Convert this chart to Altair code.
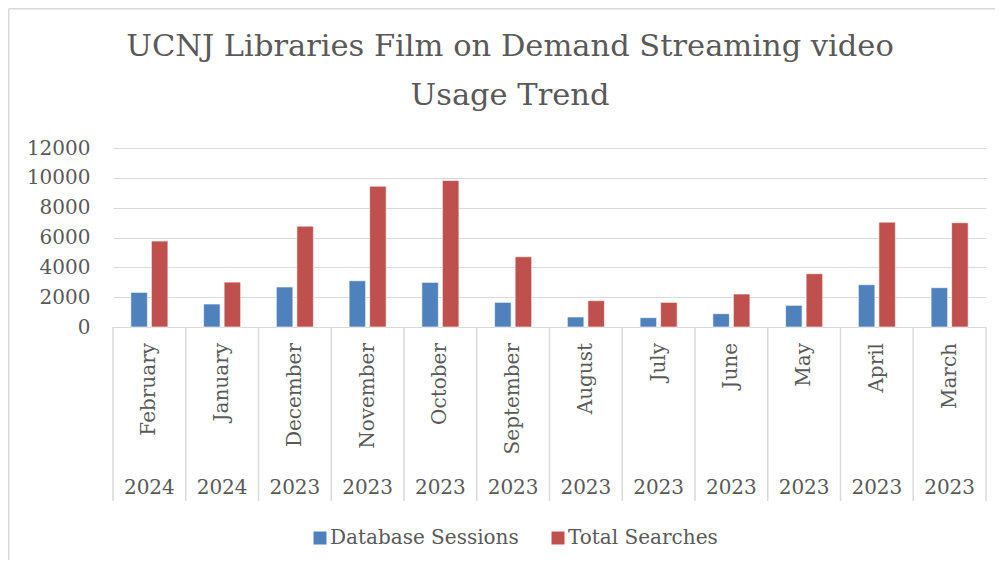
import altair as alt
import pandas as pd

months = ["February", "January", "December", "November", "October", "September",
          "August", "July", "June", "May", "April", "March"]
years = ["2024", "2024", "2023", "2023", "2023", "2023",
         "2023", "2023", "2023", "2023", "2023", "2023"]
sessions = [2320, 1540, 2680, 3100, 2990, 1650, 670, 625, 890, 1450, 2835, 2635]
searches = [5760, 3010, 6760, 9440, 9820, 4710, 1765, 1650, 2210, 3570, 7030, 6990]
series = ["Database Sessions", "Total Searches"]
colors = ["#4F81BD", "#C0504D"]
title_lines = ["UCNJ Libraries Film on Demand Streaming video", "Usage Trend"]

rows = []
for m, y, s, t in zip(months, years, sessions, searches):
    rows.append({"month": m, "year": y, "series": series[0], "value": s})
    rows.append({"month": m, "year": y, "series": series[1], "value": t})
df = pd.DataFrame(rows)
cats = pd.DataFrame({"month": months, "year": years})

FONT = "DejaVu Serif"
GRAY = "#595959"
LINE = "#d9d9d9"
W, H = 873, 179

xscale = alt.Scale(domain=months, paddingInner=0, paddingOuter=0)

bars = alt.Chart(df).mark_bar(stroke="white", strokeWidth=0.6).encode(
    x=alt.X("month:N", sort=months, scale=xscale,
            axis=alt.Axis(labels=False, ticks=False, title=None, domainColor=LINE,
                          domainWidth=1.2, grid=False)),
    xOffset=alt.XOffset("series:N", sort=series,
                        scale=alt.Scale(domain=series, paddingInner=0.195, paddingOuter=0.87)),
    y=alt.Y("value:Q", scale=alt.Scale(domain=[0, 12000], nice=False),
            axis=alt.Axis(values=list(range(0, 12001, 2000)), format="d", title=None,
                          ticks=False, domain=False, gridColor=LINE, gridWidth=1.2,
                          labelFont=FONT, labelFontSize=20, labelColor=GRAY,
                          labelPadding=23)),
    color=alt.Color("series:N", sort=series,
                    scale=alt.Scale(domain=series, range=colors),
                    legend=alt.Legend(orient="none", legendX=197, legendY=380,
                                      direction="horizontal", title=None,
                                      symbolType="square", symbolSize=169,
                                      symbolStrokeWidth=0, labelFont=FONT,
                                      labelFontSize=20, labelColor=GRAY, labelLimit=0,
                                      labelOffset=0, columnPadding=29, padding=0)),
)

seps = alt.Chart(cats).mark_rule(color=LINE, strokeWidth=1.5).encode(
    x=alt.X("month:N", sort=months, scale=xscale, bandPosition=0),
    y=alt.value(H), y2=alt.value(353),
)
sep_end = alt.Chart(alt.Data(values=[{}])).mark_rule(color=LINE, strokeWidth=1.5).encode(
    x=alt.value(W), y=alt.value(H), y2=alt.value(353),
)

month_text = alt.Chart(cats).mark_text(
    angle=270, align="right", baseline="middle", font=FONT, fontSize=20, color=GRAY
).encode(
    x=alt.X("month:N", sort=months, scale=xscale),
    y=alt.value(195),
    text="month:N",
)
year_text = alt.Chart(cats).mark_text(
    align="center", baseline="alphabetic", font=FONT, fontSize=20, color=GRAY
).encode(
    x=alt.X("month:N", sort=months, scale=xscale),
    y=alt.value(346),
    text="year:N",
)

title1 = alt.Chart(alt.Data(values=[{"t": title_lines[0]}])).mark_text(
    align="center", baseline="alphabetic", font=FONT, fontSize=30.5, color=GRAY
).encode(x=alt.value(397), y=alt.value(-92.3), text="t:N")
title2 = alt.Chart(alt.Data(values=[{"t": title_lines[1]}])).mark_text(
    align="center", baseline="alphabetic", font=FONT, fontSize=30.5, color=GRAY
).encode(x=alt.value(397), y=alt.value(-43), text="t:N")

frame_left = alt.Chart(alt.Data(values=[{}])).mark_rule(color=LINE, strokeWidth=1.5).encode(
    x=alt.value(-104.25), y=alt.value(-139.25), y2=alt.value(600),
)
frame_top = alt.Chart(alt.Data(values=[{}])).mark_rule(color=LINE, strokeWidth=1.5).encode(
    x=alt.value(-104.25), x2=alt.value(1000), y=alt.value(-139.25),
)

chart = alt.layer(frame_left, frame_top, bars, seps, sep_end, month_text, year_text,
                  title1, title2).properties(
    width=W, height=H,
    padding={"left": 105, "top": 140, "right": 9, "bottom": 233},
    autosize=alt.AutoSizeParams(type="none"),
).configure(background="white").configure_view(stroke="transparent", strokeWidth=0)

chart.save("out.html", embed_options={"renderer": "svg", "actions": False})
